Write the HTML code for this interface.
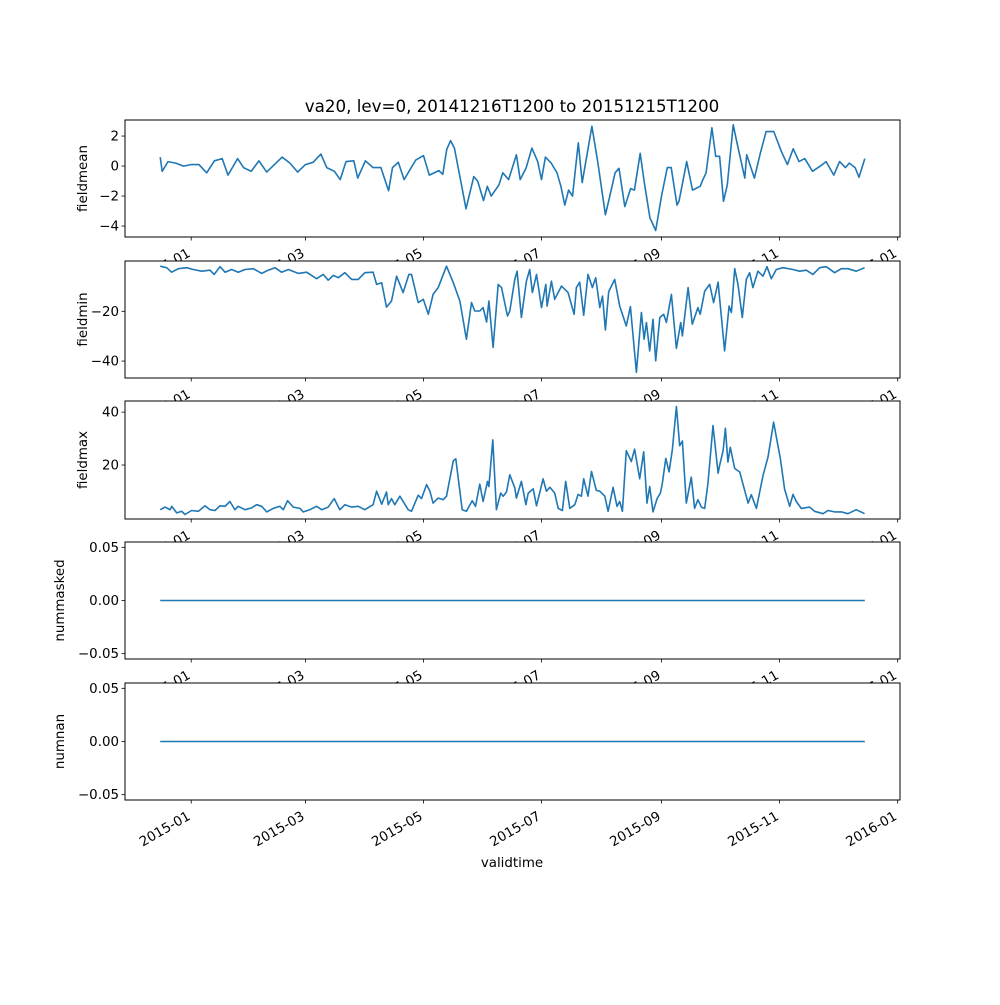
<!DOCTYPE html>
<html><head><meta charset="utf-8"><style>
html,body{margin:0;padding:0;background:#fff}
svg text{font-family:"DejaVu Sans","Liberation Sans",sans-serif;fill:#000}
</style></head><body>
<svg id="chart" width="1000" height="1000" xmlns="http://www.w3.org/2000/svg"></svg>
<script>
// ---- data (day offsets from 2014-12-16T12:00) ----
const meanDays=[0,1,4,8,12,16,20,24,28,32,35,40,43,47,51,55,59,63,67,71,75,79,83,86,90,93,96,100,102,106,110,114,118,120,123,126,129,132,136,139,144,146,148,150,152,155,158,162,164,167,169,171,175,177,180,184,186,189,192,195,197,199,202,205,207,209,211,213,216,218,223,226,230,232,235,237,240,243,245,248,250,253,256,259,262,264,267,268,272,275,279,280,282,285,287,289,291,293,296,298,302,303,307,310,313,317,321,324,327,330,333,337,341,344,348,351,354,356,359,361,364];
const meanVals=[0.6,-0.35,0.3,0.2,0,0.1,0.1,-0.45,0.35,0.5,-0.6,0.5,-0.1,-0.35,0.35,-0.4,0.1,0.6,0.2,-0.4,0.1,0.25,0.8,-0.1,-0.35,-0.9,0.3,0.35,-0.8,0.35,-0.1,-0.1,-1.65,-0.1,0.25,-0.9,-0.25,0.4,0.7,-0.6,-0.3,-0.55,1.1,1.7,1.2,-0.8,-2.85,-0.7,-1.0,-2.3,-1.35,-2.0,-1.25,-0.45,-0.9,0.75,-0.9,-0.15,1.2,0.3,-0.9,0.6,0.2,-0.45,-1.35,-2.6,-1.6,-2.0,1.55,-1.1,2.65,0.3,-3.25,-2.15,-0.45,-0.15,-2.7,-1.5,-1.6,0.85,-1.0,-3.45,-4.3,-2.0,-0.1,-0.1,-2.6,-2.35,0.3,-1.6,-1.35,-1.0,-0.45,2.55,0.65,0.65,-2.35,-1.25,2.75,1.55,-0.8,0.75,-0.8,0.85,2.3,2.3,0.95,0.1,1.15,0.3,0.5,-0.35,0,0.3,-0.6,0.3,-0.1,0.2,-0.1,-0.75,0.5];
const minDays=[0,3.3,5.9,9.4,13.7,17.1,21.4,25.7,27.9,30.9,33.5,36.9,40.3,43.8,48.1,52.4,55.8,59.3,62.7,66.2,71.3,75.6,80.8,84.2,86.8,89.4,92,95.4,98.9,102.3,105.7,110,111.8,114.4,116.9,119.5,122.1,125.5,128.5,129.8,133.3,135.9,138.5,141,143.6,147.9,151.4,154.8,158.2,160.8,162.5,165.1,166.8,168.6,169.8,172,174.6,176.3,179.4,180.6,183.2,184.4,186.6,189.2,190.9,192.3,194.4,197,199.2,199.9,202.1,203.8,207.3,210.7,213.8,215,216.7,218.8,221,223.3,225,227.1,228.5,230,231.7,234.8,237.4,240.8,242.9,246,248.6,250,251.2,252.9,254.6,256,258.1,260.1,261.5,264.1,266.7,268.9,269.8,272.7,274.9,277.8,279,281.3,283.9,285.9,288.2,291.6,293.9,295.1,296.8,298.5,300.7,302.8,304.5,306.2,308.8,311.4,313.5,315.7,318.3,321.7,326.9,330.3,333.8,337.2,340.7,344.1,348.4,351.9,355.3,359.6,363.9];
const minVals=[-1.9,-2.5,-4.3,-2.9,-2.5,-3.2,-3.9,-3.5,-5.2,-2.1,-4.3,-3.2,-4.3,-3.2,-2.9,-4.8,-3.5,-2.5,-4.3,-3.2,-4.8,-4.3,-6.9,-5.2,-7.5,-5.6,-6.5,-4.5,-7.2,-7.2,-4.5,-4.3,-9.2,-8.5,-18.3,-15.9,-5.9,-12.5,-5.2,-5.2,-16.5,-15.2,-21.2,-13.2,-10.5,-1.9,-8.5,-15.9,-31.2,-16.5,-19.9,-19.9,-18.5,-24.3,-15.9,-34.5,-9.2,-10.5,-21.9,-19.9,-7.2,-3.9,-22.5,-7.9,-3.2,-12.5,-5.2,-18.5,-9.2,-17.9,-7.9,-15.2,-9.9,-12.5,-21.2,-10.5,-8.3,-21.6,-5.2,-10.5,-6.5,-18.5,-13.9,-27.5,-12.1,-7.2,-17.9,-25.9,-18.1,-44.5,-20.5,-31.2,-24.5,-35.9,-23.2,-39.9,-22.5,-21.2,-24.5,-13.2,-34.9,-24.5,-29.9,-10.5,-25.2,-18.5,-21.2,-11.9,-9.2,-16.5,-8.3,-35.9,-17.9,-20.5,-2.9,-9.2,-22.5,-7.2,-4.5,-10.5,-3.9,-5.9,-2.1,-6.9,-3.2,-2.5,-3.2,-3.9,-3.5,-5.2,-2.5,-2.1,-4.5,-2.9,-2.9,-3.9,-2.5];
const maxDays=[0,2.5,5.1,6,8.5,11.1,12.8,16.2,19.7,23.1,25.7,28.3,30.9,33.5,36,38.6,40.3,43.8,47.2,49.8,52.4,55,58.4,61.8,63.6,65.8,68.7,72.2,73.9,77.3,80.8,83.4,86.8,89.9,92.8,95.4,98.9,102.3,105.7,110,111.8,114.4,116.9,117.8,119.5,121.2,123.8,128.1,129.8,133.3,135,137.6,139.3,141,143.6,146.2,147.9,151.4,152.7,156,158.2,161.2,162.9,165.1,166.8,169.1,169.8,171.8,173.7,175.9,177.2,178.9,180.6,183.2,184,186.6,188.9,190.1,192.7,194.4,197.8,199.5,201.3,203.8,205.6,207.8,209.5,211.6,214.2,215.9,217.6,218.8,221,222.8,225.3,227.1,229.7,231.4,234,236,237.4,238.8,240.8,243.4,245.1,247.7,249.8,251.5,252.9,254.6,256.7,258.4,259.4,261.2,262.9,264.6,266.7,268.4,269.8,271.8,274.4,276.1,277.8,279.6,281.3,283,285.6,288.2,289,290.8,292,293.3,294.5,296.8,299.4,303.7,305.4,308,311.4,314,316.9,320.4,322.6,325.2,326.9,328.6,331.2,335.5,338.1,342.4,345,348.4,351.9,355.3,359.6,363.9];
const maxVals=[3.1,4.1,3.1,4.4,1.9,2.5,1.3,2.8,2.5,4.6,3.1,2.8,4.6,4.4,6.2,3.1,4.4,3.1,3.8,5.0,4.4,2.3,3.6,4.4,3.1,6.5,4.1,3.6,2.3,3.1,4.4,3.1,4.1,7.3,3.1,5.0,4.1,4.4,3.1,5.0,10.1,5.2,9.8,5.0,7.3,5.0,8.2,3.1,2.5,8.6,7.3,12.6,10.1,5.6,7.5,6.9,8.2,21.6,22.3,3.1,2.5,6.5,4.4,12.8,6.2,13.8,11.9,29.5,3.1,9.4,8.2,9.8,16.3,11.4,7.5,13.8,5.0,9.4,11.0,4.6,14.8,10.1,11.6,9.4,3.6,2.8,13.8,3.6,5.0,8.9,8.2,14.8,8.2,17.6,10.4,10.1,8.2,2.5,11.6,4.4,6.2,2.5,25.4,21.3,26.0,14.8,25.0,5.6,11.9,2.3,7.3,9.4,13.0,22.5,17.4,26.0,42.1,27.3,29.1,5.6,15.4,3.6,6.9,4.1,3.6,13.3,34.9,16.9,19.8,25.4,33.9,21.1,26.7,18.7,17.4,5.6,8.8,3.6,16.0,23.0,36.2,22.3,10.9,4.4,8.9,6.2,3.6,4.1,2.5,1.6,2.8,2.3,2.3,1.6,3.1,1.6];
const nummaskedVals=[0,0];
const numnanVals=[0,0];
const zeroDays=[0,364];
const xTickDays=[16,75,136,197,259,320,381];
const xTickLabels=["2015-01","2015-03","2015-05","2015-07","2015-09","2015-11","2016-01"];

const NS="http://www.w3.org/2000/svg";
const svg=document.getElementById('chart');
function el(tag,attrs,parent){const e=document.createElementNS(NS,tag);for(const k in attrs)e.setAttribute(k,attrs[k]);(parent||svg).appendChild(e);return e;}
const L=125,R=900,W=R-L;
const dMin=0,dMax=364,pad=(dMax-dMin)*0.05;
function xs(d){return L+(d-(dMin-pad))/((dMax-dMin)+2*pad)*W;}

const panels=[
 {name:'fieldmean',top:120,bot:237,ymin:-4.73,ymax:3.07,days:meanDays,vals:meanVals,ticks:[2,0,-2,-4],fmt:v=>v<0?'\u2212'+(-v):''+v},
 {name:'fieldmin',top:261,bot:378,ymin:-46.8,ymax:0.2,days:minDays,vals:minVals,ticks:[-20,-40],fmt:v=>'\u2212'+(-v)},
 {name:'fieldmax',top:401,bot:519,ymin:-0.4,ymax:44.2,days:maxDays,vals:maxVals,ticks:[40,20],fmt:v=>''+v},
 {name:'nummasked',top:542,bot:659,ymin:-0.055,ymax:0.055,days:zeroDays,vals:nummaskedVals,ticks:[0.05,0,-0.05],fmt:v=>v<0?'\u2212'+(-v).toFixed(2):v.toFixed(2)},
 {name:'numnan',top:683,bot:800,ymin:-0.055,ymax:0.055,days:zeroDays,vals:numnanVals,ticks:[0.05,0,-0.05],fmt:v=>v<0?'\u2212'+(-v).toFixed(2):v.toFixed(2)}
];

const title=el('text',{x:512,y:112,'text-anchor':'middle','font-size':'16.7'});
title.textContent='va20, lev=0, 20141216T1200 to 20151215T1200';



panels.forEach(p=>{
  const g=el('g',{});
  
  
  el('rect',{x:L,y:p.top,width:W,height:p.bot-p.top,fill:'#fff'},g);
  const ys=v=>p.bot-(v-p.ymin)/(p.ymax-p.ymin)*(p.bot-p.top);
  const pts=p.days.map((d,i)=>xs(d).toFixed(1)+','+ys(p.vals[i]).toFixed(1)).join(' ');
  const line=el('polyline',{points:pts,fill:'none',stroke:'#1f77b4','stroke-width':'1.6','stroke-linejoin':'round'},g);
  
  
  const frame=el('rect',{x:L,y:p.top,width:W,height:p.bot-p.top,fill:'none',stroke:'#000','stroke-width':'1'},g);
  
  
  p.ticks.forEach(t=>{
    const y=ys(t);
    el('line',{x1:L-3.5,x2:L,y1:y,y2:y,stroke:'#000','stroke-width':'0.8'},g);
    const tl=el('text',{x:L-6,y:y+4.5,'text-anchor':'end','font-size':'13.4'},g);
    tl.textContent=p.fmt(t);
    
    
  });
  const yl=el('text',{transform:`translate(${p.name.startsWith('num')?64:87},${(p.top+p.bot)/2}) rotate(-90)`,'text-anchor':'middle','font-size':'13.4'},g);
  yl.textContent=p.name;
  
  
  xTickDays.forEach((d,i)=>{
    const x=xs(d);
    el('line',{x1:x,x2:x,y1:p.bot,y2:p.bot+3.5,stroke:'#000','stroke-width':'0.8'},g);
    const xl=el('text',{transform:`translate(${x-5},${p.bot+10}) rotate(-30)`,'text-anchor':'end','font-size':'13.4',dy:'0.75em'},g);
    xl.textContent=xTickLabels[i];
    
    
  });
});
const xt=el('text',{x:512,y:867,'text-anchor':'middle','font-size':'13.4'});
xt.textContent='validtime';


</script>
</body></html>
